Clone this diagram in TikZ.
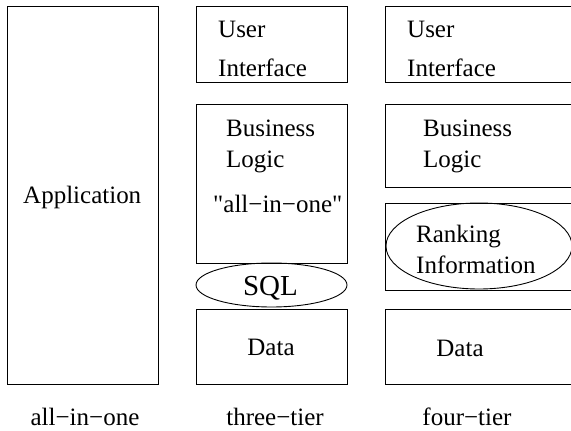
\documentclass[tikz,border=0pt]{standalone}
\usepackage{fontspec}
\newfontfamily\tfont{Liberation Serif}
\usetikzlibrary{shapes.geometric}
\begin{document}
\begin{tikzpicture}[x=1pt,y=-1pt,
  boxnode/.style={draw=black,line width=1pt,rectangle,inner sep=0pt},
  ellnode/.style={draw=black,line width=0.9pt,ellipse,inner sep=0pt},
  txt/.style={anchor=base west,inner sep=0pt,font=\tfont\fontsize{25}{30}\selectfont},
  ctxt/.style={anchor=base,inner sep=0pt,font=\tfont\fontsize{25}{30}\selectfont}]
\useasboundingbox (0,0) rectangle (571,431);
\clip (0,0) rectangle (571,431);
% all-in-one
\node[boxnode,minimum width=151pt,minimum height=378pt] (app) at (82.5,195) {};
\node[txt] (apptxt) at (23,203) {Application};
% three-tier
\node[boxnode,minimum width=151pt,minimum height=76pt] (ui3) at (271.5,44) {};
\node[boxnode,minimum width=151pt,minimum height=159pt] (bl3) at (271.5,183.5) {};
\node[ellnode,minimum width=151pt,minimum height=44pt] (sql) at (271.5,285) {};
\node[boxnode,minimum width=151pt,minimum height=75pt] (data3) at (271.5,346.5) {};
\node[txt] (user3) at (218,37) {User};
\node[txt] (intf3) at (218,76) {Interface};
\node[txt] (bus3) at (226,136) {Business};
\node[txt] (log3) at (226,167) {Logic};
\node[txt] (aio3) at (213,212) {"all−in−one"};
\node[anchor=base,inner sep=0pt,font=\tfont\fontsize{29}{34}\selectfont] (sqltxt) at (270.5,295) {SQL};
\node[ctxt] (datatxt3) at (271,355) {Data};
% four-tier
\node[boxnode,minimum width=190pt,minimum height=76pt] (ui4) at (480,44) {};
\node[boxnode,minimum width=190pt,minimum height=83pt] (bl4) at (480,145.5) {};
\node[boxnode,minimum width=190pt,minimum height=87pt] (rk4) at (480,246.5) {};
\node[ellnode,minimum width=186pt,minimum height=86pt] (rkell) at (479,246) {};
\node[boxnode,minimum width=190pt,minimum height=75pt] (data4) at (480,346.5) {};
\node[txt] (user4) at (407,37) {User};
\node[txt] (intf4) at (407,76) {Interface};
\node[txt] (bus4) at (423,136) {Business};
\node[txt] (log4) at (423,167) {Logic};
\node[txt] (rank4) at (416,242) {Ranking};
\node[txt] (info4) at (416,273) {Information};
\node[ctxt] (datatxt4) at (460,356) {Data};
% captions
\node[ctxt] (cap1) at (85,425) {all−in−one};
\node[ctxt] (cap2) at (275,425) {three−tier};
\node[ctxt] (cap3) at (467,425) {four−tier};
\end{tikzpicture}
\end{document}
